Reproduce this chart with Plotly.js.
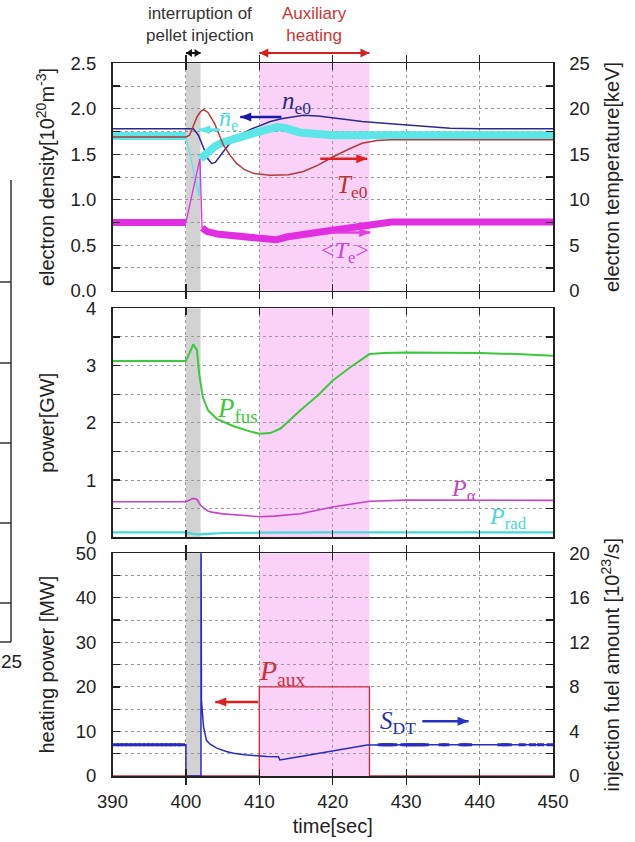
<!DOCTYPE html>
<html><head><meta charset="utf-8">
<script src="https://cdn.plot.ly/plotly-3.0.1.min.js"></script>
<style>html,body{margin:0;padding:0;background:#fff}#chart{width:635px;height:842px}</style>
</head><body><div id="chart"></div><script>
// ---------- DATA ----------
// top panel: electron density [1e20 m^-3] (left) and temperature [keV] (right)
const tNe0 = [390, 400, 401, 401.7, 402.4, 403, 403.5, 404, 405, 406, 407, 408, 409, 410, 411.5, 413, 415, 416, 418, 420, 422, 424, 427, 430, 433, 436, 440, 450];
const ne0  = [1.78, 1.78, 1.78, 1.71, 1.57, 1.45, 1.40, 1.41, 1.52, 1.62, 1.69, 1.74, 1.78, 1.81, 1.86, 1.89, 1.92, 1.93, 1.92, 1.90, 1.88, 1.86, 1.84, 1.82, 1.80, 1.785, 1.78, 1.78];

const tNeBar = [390, 400, 400, 402.0, 403, 404, 405, 406.5, 408, 410, 412.4, 413.5, 415.5, 418, 420, 425, 450];
const neBar  = [1.70, 1.70, null, 1.45, 1.53, 1.59, 1.63, 1.67, 1.71, 1.75, 1.80, 1.79, 1.74, 1.72, 1.71, 1.71, 1.71];
const tNeBarThin = [400, 401.8, 402.0];
const neBarThin  = [1.70, 1.04, 1.45];

const tTe0 = [390, 400, 400.5, 401, 401.5, 402, 402.4, 403, 403.5, 403.9, 404.5, 405.1, 406, 406.9, 408, 409.2, 411.5, 414, 416, 418, 420, 422, 424, 426, 428, 430, 450];
const te0  = [16.9, 16.9, 17.1, 18.1, 19.1, 19.7, 19.9, 19.6, 19.0, 18.4, 17.2, 16.0, 14.9, 14.0, 13.3, 12.9, 12.7, 12.75, 13.1, 13.8, 14.7, 15.5, 16.2, 16.5, 16.6, 16.6, 16.6];

const tTeAvg = [390, 400, 400, 402.2, 402.9, 404.5, 407.3, 410.9, 412.3, 413.7, 417.8, 422.4, 426, 428, 450];
const teAvg  = [7.5, 7.5, null, 6.9, 6.5, 6.2, 5.9, 5.7, 5.6, 5.9, 6.4, 7.0, 7.4, 7.55, 7.55];
const tTeAvgThin = [400, 401.9, 402.2];
const teAvgThin  = [7.5, 14.5, 6.9];

// middle panel: power [GW]
const tPfus = [390, 400, 400.5, 401, 401.5, 401.8, 402.3, 403, 404.2, 406.5, 408.7, 410, 411.5, 412.9, 415.6, 418, 420, 422.4, 425, 427, 430, 435, 440, 445, 450];
const pFus  = [3.08, 3.08, 3.22, 3.37, 3.27, 2.86, 2.45, 2.22, 2.07, 1.94, 1.85, 1.81, 1.82, 1.90, 2.22, 2.48, 2.74, 2.97, 3.20, 3.22, 3.23, 3.23, 3.22, 3.20, 3.17];
const tPalpha = [390, 400, 400.5, 401, 401.5, 402, 402.5, 403, 403.5, 405, 408, 410, 412, 415.6, 420, 425, 430, 440, 450];
const pAlpha  = [0.62, 0.62, 0.65, 0.68, 0.66, 0.56, 0.50, 0.46, 0.44, 0.41, 0.38, 0.36, 0.37, 0.41, 0.53, 0.63, 0.65, 0.65, 0.645];
const tPrad = [390, 400, 401, 402, 403, 405, 410, 420, 450];
const pRad  = [0.085, 0.085, 0.06, 0.05, 0.06, 0.075, 0.08, 0.085, 0.085];

// bottom panel: heating power [MW] (left) and fuel injection [1e23/s] (right)
const tPaux = [390, 410, 410, 425, 425, 450];
const pAux  = [0, 0, 20, 20, 0, 0];
const tSdt = [390, 400, 400, 402.05, 402.05, 402.12, 402.4, 402.8, 403.3, 404.2, 405.5, 406.5, 408, 409.6, 411, 412.6, 412.8, 415, 418, 420, 422, 424.7, 430, 440, 450];
const sDT  = [2.8, 2.8, 0, 0, 25, 6.8, 4.4, 3.2, 2.85, 2.5, 2.2, 2.05, 1.9, 1.8, 1.76, 1.73, 1.44, 1.68, 2.0, 2.25, 2.48, 2.78, 2.8, 2.8, 2.8];
const tSdtMark = [390.4, 391.0, 391.6, 392.2, 392.8, 393.4, 394.0, 394.6, 395.2, 395.8, 396.4, 397.0, 397.6, 398.2, 398.8, 399.4,
                  426.6, 427.0, 427.4, 427.8, 428.3, 429.7, 430.1, 430.5, 430.9, 431.3, 431.7, 432.1, 432.6, 434.9, 435.4, 437.6, 438.0, 438.5, 442.9, 443.4, 443.9, 445.8, 447.2, 448.3, 449.6];
const sDTMark  = [2.8, 2.8, 2.8, 2.8, 2.8, 2.8, 2.8, 2.8, 2.8, 2.8, 2.8, 2.8, 2.8, 2.8, 2.8, 2.8,
                  2.8, 2.8, 2.8, 2.8, 2.8, 2.8, 2.8, 2.8, 2.8, 2.8, 2.8, 2.8, 2.8, 2.8, 2.8, 2.8, 2.8, 2.8, 2.8, 2.8, 2.8, 2.8, 2.8, 2.8, 2.8];

// ticks (major labelled step, minor step)
const xTicks = [390, 400, 410, 420, 430, 440, 450];
const xTickText = ['390', '400', '410', '420', '430', '440', '450'];
const densStep = [0.5, 0.25];
const tempStep = [5, 2.5];
const powStep  = [1, 0.5];
const heatStep = [10, 5];
const fuelStep = [4, 2];

// ---------- STYLE ----------
const FONT = 'Liberation Sans, Arial, sans-serif';
const SERIF = 'Liberation Serif, Times New Roman, serif';
const W = 635, H = 842;
const px = p => p / W;
const py = p => 1 - p / H;
const XDOM = [112.5 / W, 553 / W];
const TOP = [py(290.7), py(63.3)];
const MID = [py(537.3), py(308.3)];
const BOT = [py(776), py(553.3)];

const tickFont = {family: FONT, size: 18.5, color: '#222'};
const titleFont = {family: FONT, size: 20, color: '#222'};
const GRID = '#9a9a9a';

function xax(anchor, labels) {
  return {
    domain: XDOM, range: [390, 450], anchor: anchor,
    tickmode: 'array', tickvals: xTicks, ticktext: xTickText,
    showticklabels: labels, tickfont: tickFont, ticklabelstandoff: 8,
    ticks: 'inside', ticklen: 7, tickwidth: 1.3, tickcolor: '#222',
    showline: true, linecolor: '#222', linewidth: 1.5, mirror: 'allticks',
    showgrid: true, gridcolor: GRID, griddash: 'dot', gridwidth: 1,
    zeroline: false, fixedrange: true
  };
}
function yax(domain, range, step, fmt, title, standoff, extra) {
  return Object.assign({
    domain: domain, range: range,
    tickmode: 'linear', tick0: 0, dtick: step[0], tickformat: fmt,
    tickfont: tickFont, ticklabelstandoff: 11,
    ticks: 'inside', ticklen: 7, tickwidth: 1.3, tickcolor: '#222',
    minor: {tickmode: 'linear', tick0: 0, dtick: step[1], ticks: 'inside', ticklen: 7, tickwidth: 1.3, tickcolor: '#222',
            showgrid: true, gridcolor: GRID, griddash: 'dot', gridwidth: 1},
    showline: true, linecolor: '#222', linewidth: 1.5,
    showgrid: true, gridcolor: GRID, griddash: 'dot', gridwidth: 1,
    zeroline: false, fixedrange: true,
    title: {text: title, font: titleFont, standoff: standoff}
  }, extra || {});
}

// ---------- TRACES ----------
const traces = [
  // top panel
  {x: tNe0, y: ne0, xaxis: 'x3', yaxis: 'y4', mode: 'lines', line: {color: '#2c2a8e', width: 1.5}, name: 'n_e0'},
  {x: tTe0, y: te0, xaxis: 'x3', yaxis: 'y5', mode: 'lines', line: {color: '#b43a3a', width: 1.5}, name: 'T_e0'},
  {x: tNeBar, y: neBar, xaxis: 'x3', yaxis: 'y4', mode: 'lines', line: {color: '#5ce6e8', width: 8}, name: 'n_e avg'},
  {x: tNeBarThin, y: neBarThin, xaxis: 'x3', yaxis: 'y4', mode: 'lines', line: {color: '#5ce6e8', width: 1.3}, name: 'n_e avg transient'},
  {x: tTeAvg, y: teAvg, xaxis: 'x3', yaxis: 'y5', mode: 'lines', line: {color: '#e02ee0', width: 7}, name: '<T_e>'},
  {x: tTeAvgThin, y: teAvgThin, xaxis: 'x3', yaxis: 'y5', mode: 'lines', line: {color: '#e02ee0', width: 1.3}, name: '<T_e> transient'},
  // middle panel
  {x: tPfus, y: pFus, xaxis: 'x2', yaxis: 'y3', mode: 'lines', line: {color: '#3ec83e', width: 2}, name: 'P_fus'},
  {x: tPalpha, y: pAlpha, xaxis: 'x2', yaxis: 'y3', mode: 'lines', line: {color: '#c444c4', width: 1.6}, name: 'P_alpha'},
  {x: tPrad, y: pRad, xaxis: 'x2', yaxis: 'y3', mode: 'lines', line: {color: '#48d8d8', width: 2.2}, name: 'P_rad'},
  // bottom panel
  {x: tPaux, y: pAux, xaxis: 'x', yaxis: 'y', mode: 'lines', line: {color: '#d0303c', width: 1.4}, name: 'P_aux'},
  {x: tSdt, y: sDT, xaxis: 'x', yaxis: 'y2', mode: 'lines', line: {color: '#2a2ac4', width: 1.5}, name: 'S_DT'},
  {x: tSdtMark, y: sDTMark, xaxis: 'x', yaxis: 'y2', mode: 'markers',
   marker: {symbol: 'line-ew', size: 5, line: {color: '#2a2ac4', width: 3}}, name: 'S_DT pellets'}
];

// ---------- SHAPES ----------
function bands(xref, yref) {
  return [
    {type: 'rect', xref: xref, yref: yref + ' domain', x0: 410, x1: 425, y0: 0, y1: 1, fillcolor: '#fad2f8', line: {width: 0}, layer: 'below'},
    {type: 'rect', xref: xref, yref: yref + ' domain', x0: 400, x1: 402, y0: 0, y1: 1, fillcolor: '#d2d2d2', line: {width: 0}, layer: 'below'}
  ];
}
// horizontal arrow made of a line and pixel-sized triangular head(s)
function arrowShapes(xref, yref, xHead, xTail, y, color, width, both, headLen, headHalf) {
  const L = headLen || 11, Hh = headHalf || 4.5;
  const dir = xHead > xTail ? 1 : -1;
  const head = (xa, d) => ({type: 'path', xref: xref, yref: yref, xsizemode: 'pixel', ysizemode: 'pixel',
    xanchor: xa, yanchor: y, path: 'M 0 0 L ' + (-d * L) + ' ' + Hh + ' L ' + (-d * L) + ' ' + (-Hh) + ' Z',
    fillcolor: color, line: {width: 0}, layer: 'above'});
  const out = [
    {type: 'line', xref: xref, yref: yref, x0: xTail, x1: xHead, y0: y, y1: y, line: {color: color, width: width}, layer: 'above'},
    head(xHead, dir)
  ];
  if (both) out.push(head(xTail, -dir));
  return out;
}
const edge = {color: '#333', width: 1.5};
const shapes = [].concat(
  bands('x3', 'y4'), bands('x2', 'y3'), bands('x', 'y'),
  arrowShapes('x3', 'paper', 402, 400, py(53), '#111', 1.8, true, 6, 4),
  arrowShapes('x3', 'paper', 425, 410, py(53), '#d42020', 2, true, 9, 4.5),
  arrowShapes('x3', 'y4', 407.4, 413.0, 1.91, '#1a1aa8', 2.5),
  arrowShapes('x3', 'y4', 401.8, 404.6, 1.77, '#5ce6e8', 3),
  arrowShapes('x3', 'y4', 424.7, 418.3, 1.45, '#e02020', 2.5),
  arrowShapes('x3', 'y4', 425.1, 419.7, 0.64, '#e040e0', 2.5),
  arrowShapes('x', 'y', 404.0, 409.85, 16.6, '#e02020', 2.5),
  arrowShapes('x', 'y', 438.5, 432.2, 12.3, '#2a30c4', 2.5),
  [
  // fragment of the neighbouring figure at the left edge
  {type: 'line', xref: 'paper', yref: 'paper', x0: px(11), x1: px(11), y0: py(180), y1: py(642), line: edge},
  {type: 'line', xref: 'paper', yref: 'paper', x0: 0, x1: px(11), y0: py(642), y1: py(642), line: edge},
  {type: 'line', xref: 'paper', yref: 'paper', x0: 0, x1: px(11), y0: py(282), y1: py(282), line: edge},
  {type: 'line', xref: 'paper', yref: 'paper', x0: 0, x1: px(11), y0: py(363), y1: py(363), line: edge},
  {type: 'line', xref: 'paper', yref: 'paper', x0: 0, x1: px(11), y0: py(443), y1: py(443), line: edge},
  {type: 'line', xref: 'paper', yref: 'paper', x0: 0, x1: px(11), y0: py(523), y1: py(523), line: edge},
  {type: 'line', xref: 'paper', yref: 'paper', x0: 0, x1: px(11), y0: py(603), y1: py(603), line: edge}
  ]);

// ---------- ANNOTATIONS ----------
function label(text, xref, yref, x, y, color, size) {
  return {text: text, xref: xref, yref: yref, x: x, y: y, showarrow: false,
          font: {family: SERIF, size: size, color: color}, xanchor: 'center', yanchor: 'middle'};
}
const annotations = [
  {text: 'interruption of<br>pellet injection', xref: 'paper', yref: 'paper', x: px(200), y: py(25), showarrow: false,
   font: {family: FONT, size: 17, color: '#333'}, xanchor: 'center', yanchor: 'middle'},
  {text: 'Auxiliary<br>heating', xref: 'paper', yref: 'paper', x: px(314), y: py(25), showarrow: false,
   font: {family: FONT, size: 17, color: '#cc3535'}, xanchor: 'center', yanchor: 'middle'},
  // top panel labels
  label('<i>n</i><sub>e0</sub>', 'x3', 'y4', 415.0, 2.07, '#2c2a8e', 25),
  label('<i>n̄</i><sub>e</sub>', 'x3', 'y4', 405.8, 1.88, '#48dcdc', 24),
  label('<i>T</i><sub>e0</sub>', 'x3', 'y4', 422.7, 1.15, '#c03030', 25),
  label('&lt;<i>T</i><sub>e</sub>&gt;', 'x3', 'y4', 421.7, 0.43, '#d444d4', 24),
  // middle panel labels
  label('<i>P</i><sub>fus</sub>', 'x2', 'y3', 407.0, 2.22, '#3ec83e', 27),
  label('<i>P</i><sub>α</sub>', 'x2', 'y3', 437.8, 0.82, '#c444c4', 24),
  label('<i>P</i><sub>rad</sub>', 'x2', 'y3', 443.9, 0.33, '#48d8d8', 24),
  // bottom panel labels
  label('<i>P</i><sub>aux</sub>', 'x', 'y', 413.1, 23.3, '#d0303c', 28),
  label('<i>S</i><sub>DT</sub>', 'x', 'y', 428.9, 12.1, '#2a30b0', 25),
  // neighbour fragment tick label
  {text: '25', xref: 'paper', yref: 'paper', x: px(11), y: py(661), showarrow: false,
   font: {family: FONT, size: 19, color: '#222'}, xanchor: 'center', yanchor: 'middle'}
];

// ---------- LAYOUT ----------
const layout = {
  width: W, height: H,
  margin: {l: 0, r: 0, t: 0, b: 0, pad: 0},
  paper_bgcolor: '#fff', plot_bgcolor: '#fff',
  showlegend: false,
  font: {family: FONT, color: '#222'},
  xaxis: Object.assign(xax('y', true), {title: {text: 'time[sec]', font: titleFont, standoff: 8}}),
  xaxis2: xax('y3', false),
  xaxis3: xax('y4', false),
  yaxis: yax(BOT, [0, 50], heatStep, 'd', 'heating power [MW]', 15, {anchor: 'x'}),
  yaxis2: yax(BOT, [0, 20], fuelStep, 'd', 'injection fuel amount [10<sup>23</sup>/s]', 16,
              {anchor: 'x', overlaying: 'y', side: 'right', showgrid: false,
               minor: {tickmode: 'linear', tick0: 0, dtick: 2, ticks: 'inside', ticklen: 7, tickwidth: 1.3, tickcolor: '#222', showgrid: false}}),
  yaxis3: yax(MID, [0, 4], powStep, 'd', 'power[GW]', 26, {anchor: 'x2', mirror: 'allticks'}),
  yaxis4: yax(TOP, [0, 2.5], densStep, '.1f', 'electron density[10<sup>20</sup>m<sup>-3</sup>]', 10, {anchor: 'x3'}),
  yaxis5: yax(TOP, [0, 25], tempStep, 'd', 'electron temperature[keV]', 16,
              {anchor: 'x3', overlaying: 'y4', side: 'right', showgrid: false,
               minor: {tickmode: 'linear', tick0: 0, dtick: 2.5, ticks: 'inside', ticklen: 7, tickwidth: 1.3, tickcolor: '#222', showgrid: false}}),
  shapes: shapes,
  annotations: annotations
};

Plotly.newPlot('chart', traces, layout, {staticPlot: true, displayModeBar: false});
</script></body></html>
